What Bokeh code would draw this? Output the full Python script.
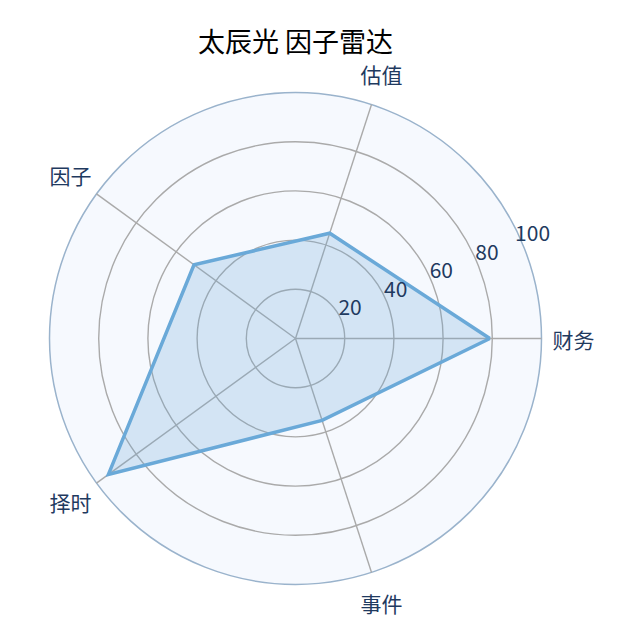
import numpy as np
from bokeh.plotting import figure
from bokeh.models import Range1d
from bokeh.core.properties import value
from bokeh.embed import file_html
from bokeh.resources import INLINE

title_text = "太辰光 因子雷达"
categories = ["财务", "估值", "因子", "择时", "事件"]
scores = [79, 45, 51, 94, 35]
ring_values = [20, 40, 60, 80, 100]
ring_labels = ["20", "40", "60", "80", "100"]

W = H = 624
scale = 2.46  # px per unit
cx, cy = 295, 338  # center in canvas px

FONT = "Noto Sans CJK SC"
NAVY = "#1f3a5f"

p = figure(width=W, height=H, output_backend="svg", toolbar_location=None,
           x_range=Range1d(-cx / scale, (W - cx) / scale),
           y_range=Range1d(-(H - cy) / scale, cy / scale),
           min_border=0, min_border_left=0, min_border_right=0,
           min_border_top=0, min_border_bottom=0)
p.axis.visible = False
p.grid.visible = False
p.outline_line_color = None
p.background_fill_color = "white"
p.border_fill_color = "white"

n = len(categories)
angles = np.deg2rad(np.arange(n) * 360.0 / n)

# outer disk
p.circle(x=[0], y=[0], radius=[ring_values[-1]], radius_units="data",
         fill_color="#f6f9fe", line_color="#9ab3cc", line_width=1.5)
# inner rings
p.circle(x=[0] * 4, y=[0] * 4, radius=ring_values[:-1], radius_units="data",
         fill_color=None, line_color="#aaaaaa", line_width=1.4)
# spokes
R = ring_values[-1]
p.segment(x0=[0] * n, y0=[0] * n, x1=list(R * np.cos(angles)), y1=list(R * np.sin(angles)),
          line_color="#aaaaaa", line_width=1.4)

# data polygon
xs = [s * np.cos(a) for s, a in zip(scores, angles)]
ys = [s * np.sin(a) for s, a in zip(scores, angles)]
p.patch(x=xs, y=ys, fill_color="#6aa9d8", fill_alpha=0.25, line_color=None)
p.line(x=xs + [xs[0]], y=ys + [ys[0]], line_color="#6aa9d8", line_width=3.5, line_join="miter")

# ring labels
la = np.deg2rad(22)
p.text(x=[r * np.cos(la) for r in ring_values], y=[r * np.sin(la) for r in ring_values],
       text=ring_labels, text_align="center", text_baseline="middle",
       x_offset=9, y_offset=-13,
       text_font=value(FONT), text_font_size="21px", text_color=NAVY)

# category labels
LR = 113
p.text(x=list(LR * np.cos(angles)), y=list(LR * np.sin(angles)), text=categories,
       text_align="center", text_baseline="middle",
       text_font=value(FONT), text_font_size="21px", text_color=NAVY)

# title
p.text(x=[0], y=[(cy - 40) / scale], text=[title_text], text_align="center",
       text_baseline="middle", text_font=value(FONT), text_font_size="27px",
       text_color="black")

open("out.html", "w").write(file_html(p, INLINE))
